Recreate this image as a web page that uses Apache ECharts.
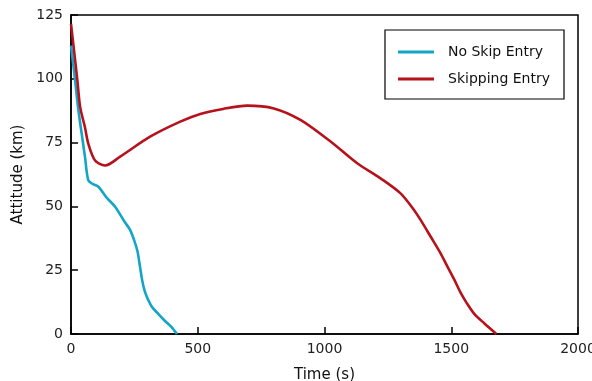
<!DOCTYPE html>
<html>
<head>
<meta charset="utf-8">
<script src="https://cdn.jsdelivr.net/npm/echarts@6/dist/echarts.min.js"></script>
<style>html,body{margin:0;padding:0;background:#fff}#c{width:592px;height:381px}</style>
</head>
<body>
<div id="c"></div>
<script>
var noSkipTime = [0, 16, 29, 42, 55, 68, 85, 108, 140, 174, 210, 233, 250, 262, 272, 280, 288, 299, 319, 345, 372, 395, 418];
var noSkipAlt  = [113, 99.5, 87.8, 78.6, 69.5, 60.3, 58.8, 57.7, 53.5, 49.9, 44.2, 40.8, 36.5, 32.5, 26.5, 21.5, 17.8, 14.6, 10.7, 7.8, 5.0, 2.9, 0];
var skipTime = [0, 12, 25, 36, 55, 68, 95, 134, 194, 312, 431, 510, 600, 695, 800, 905, 1024, 1129, 1221, 1300, 1353, 1379, 1419, 1458, 1485, 1511, 1538, 1560, 1590, 1630, 1678];
var skipAlt  = [121.5, 111, 99.5, 89, 81, 74.7, 68, 66, 69.5, 77.3, 83.2, 86.2, 88.2, 89.5, 88.4, 83.9, 75.4, 66.9, 61, 55.1, 48.6, 44.7, 38.1, 31.6, 26.4, 21.5, 16, 12.3, 8, 4.2, 0];
var xTicks = [0, 500, 1000, 1500, 2000];
var yTicks = [0, 25, 50, 75, 100, 125];

function pairs(t, a) { return t.map(function (v, i) { return [v, a[i]]; }); }

var chart = echarts.init(document.getElementById('c'));
var font = 'DejaVu Sans';
chart.setOption({
  animation: false,
  backgroundColor: '#fff',
  grid: { left: 71, right: 14, top: 15, bottom: 47, containLabel: false, outerBoundsMode: 'none',
          show: true, borderColor: '#000', borderWidth: 1.5, backgroundColor: 'transparent' },
  legend: {
    right: 28, top: 30, orient: 'vertical',
    backgroundColor: '#fff', borderColor: '#000', borderWidth: 1.2,
    padding: [15, 14, 13, 13], itemGap: 13,
    itemWidth: 36, itemHeight: 3,
    icon: 'rect',
    textStyle: { fontFamily: font, fontSize: 14, color: '#111', padding: [0, 0, 0, 9] },
    data: ['No Skip Entry', 'Skipping Entry']
  },
  xAxis: {
    type: 'value', min: xTicks[0], max: xTicks[xTicks.length - 1], interval: 500,
    name: 'Time (s)', nameLocation: 'middle', nameGap: 34,
    nameTextStyle: { fontFamily: font, fontSize: 15, color: '#111' },
    axisLine: { lineStyle: { color: '#000', width: 1.5 } },
    axisTick: { inside: true, length: 7, lineStyle: { color: '#000', width: 1.5 } },
    axisLabel: { fontFamily: font, fontSize: 14, color: '#222', margin: 8, formatter: function (v) { return String(v); } },
    splitLine: { show: false }
  },
  yAxis: {
    type: 'value', min: yTicks[0], max: yTicks[yTicks.length - 1], interval: 25,
    name: 'Attitude (km)', nameLocation: 'middle', nameGap: 42,
    nameTextStyle: { fontFamily: font, fontSize: 15, color: '#111' },
    axisLine: { lineStyle: { color: '#000', width: 1.5 } },
    axisTick: { inside: true, length: 7, lineStyle: { color: '#000', width: 1.5 } },
    axisLabel: { fontFamily: font, fontSize: 14, color: '#222', margin: 8, formatter: function (v) { return String(v); } },
    splitLine: { show: false }
  },
  series: [
    { name: 'No Skip Entry', type: 'line', data: pairs(noSkipTime, noSkipAlt), showSymbol: false, smooth: 0.3,
      lineStyle: { color: '#12a5c8', width: 2.6 }, itemStyle: { color: '#12a5c8' } },
    { name: 'Skipping Entry', type: 'line', data: pairs(skipTime, skipAlt), showSymbol: false, smooth: 0.3,
      lineStyle: { color: '#b5121b', width: 2.6 }, itemStyle: { color: '#b5121b' } }
  ]
});
</script>
</body>
</html>
